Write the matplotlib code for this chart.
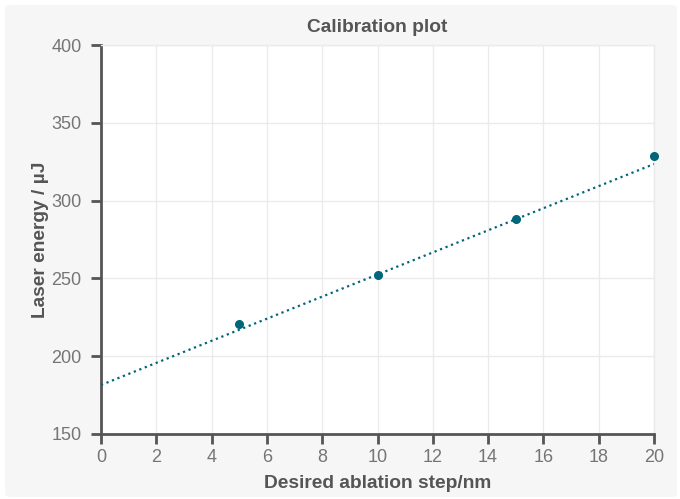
import matplotlib.pyplot as plt
from matplotlib.patches import FancyBboxPatch

# Calibration data
step_nm = [5, 10, 15, 20]
energy_uj = [221, 252.5, 288, 328.5]

# Fitted line endpoints
fit_x = [0, 20]
fit_y = [181.5, 323.5]

x_ticks = [0, 2, 4, 6, 8, 10, 12, 14, 16, 18, 20]
y_ticks = [150, 200, 250, 300, 350, 400]

teal = '#00667a'
dark = '#555555'
grid_col = '#ebebeb'

plt.rcParams['font.family'] = ['Liberation Sans', 'DejaVu Sans']

fig = plt.figure(figsize=(6.8, 4.99), dpi=100)
fig.patch.set_facecolor('white')

# light grey panel behind the chart
panel = FancyBboxPatch((5 / 680, 2 / 499), 672 / 680, 492 / 499,
                       boxstyle='round,pad=0,rounding_size=0.008',
                       transform=fig.transFigure, facecolor='#f6f6f6',
                       edgecolor='none', zorder=-10)
fig.add_artist(panel)

ax = fig.add_axes([101 / 680, 65 / 499, 553 / 680, 389 / 499])
ax.set_facecolor('white')

ax.plot(fit_x, fit_y, linestyle=':', color=teal, linewidth=1.6, zorder=3)
ax.plot(step_nm, energy_uj, 'o', color=teal, markersize=5.5, zorder=4,
        clip_on=False)

ax.set_xlim(0, 20)
ax.set_ylim(150, 400)
ax.set_xticks(x_ticks)
ax.set_yticks(y_ticks)

ax.grid(True, color=grid_col, linewidth=1)
ax.set_axisbelow(True)

for side in ['left', 'bottom']:
    ax.spines[side].set_color(dark)
    ax.spines[side].set_linewidth(2)
for side in ['top', 'right']:
    ax.spines[side].set_color(grid_col)
    ax.spines[side].set_linewidth(1)

ax.tick_params(axis='both', direction='out', length=7, width=2,
               color=dark, labelcolor='#757575', labelsize=13)
ax.tick_params(axis='y', pad=7)
ax.tick_params(axis='x', pad=4)

ax.set_title('Calibration plot', fontsize=13.8, fontweight='bold',
             color=dark, pad=9)
ax.set_xlabel('Desired ablation step/nm', fontsize=13.8, fontweight='bold',
              color=dark, labelpad=6)
ax.set_ylabel('Laser energy / µJ', fontsize=13.8, fontweight='bold',
              color=dark, labelpad=2)

fig.savefig('out.png', dpi=100)
